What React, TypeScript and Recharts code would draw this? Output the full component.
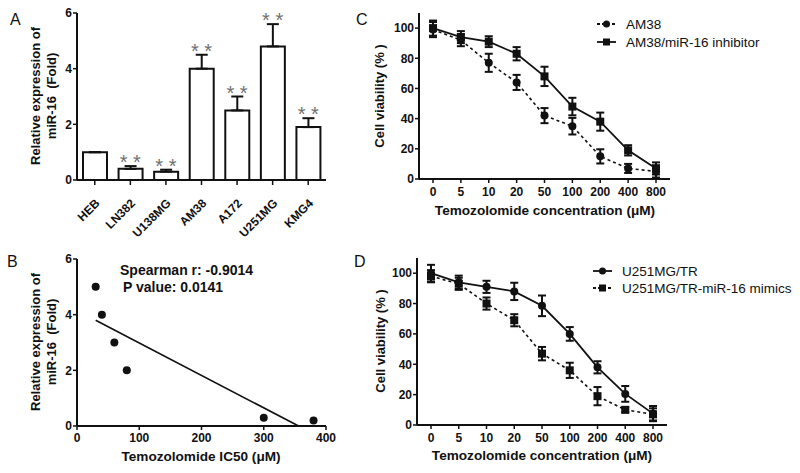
import {
  ComposedChart,
  LineChart,
  ScatterChart,
  Bar,
  Line,
  Scatter,
  ErrorBar,
  ReferenceLine,
  XAxis,
  YAxis,
} from 'recharts'

const FONT = '"Liberation Sans", Arial, Helvetica, sans-serif'
const INK = '#111'

// panel A - miR-16 expression per cell line
const cellLines = ['HEB', 'LN382', 'U138MG', 'AM38', 'A172', 'U251MG', 'KMG4']
const mirLevels = [1, 0.4, 0.3, 4.0, 2.5, 4.8, 1.9]
const mirErrors = [0, 0.1, 0.07, 0.5, 0.5, 0.8, 0.32]
const mirStars = ['', '* *', '* *', '* *', '* *', '* *', '* *']
const mirTicks = [0, 2, 4, 6]

// panel B - IC50 vs miR-16
const ic50Values = [30, 40, 60, 80, 300, 380]
const ic50MirLevels = [5, 4, 3, 2, 0.3, 0.2]
const fitStart = { x: 30, y: 3.8 }
const fitEnd = { x: 356, y: 0 }
const ic50Ticks = [0, 100, 200, 300, 400]
const spearmanText = 'Spearman r: -0.9014'
const pValueText = 'P value: 0.0141'

// panels C and D - viability curves
const concentrations = ['0', '5', '10', '20', '50', '100', '200', '400', '800']
const viabilityTicks = [0, 20, 40, 60, 80, 100]

const am38Viability = [99, 92, 77, 64, 42, 35, 15, 7, 5]
const am38Err = [5, 4, 6, 5, 5, 5.5, 4.7, 3, 4]
const am38InhViability = [100, 94, 91, 83, 68, 48, 38, 19, 7]
const am38InhErr = [5, 4, 3.6, 4.4, 6.4, 5.8, 6, 3.4, 4]

const u251Viability = [100, 94, 91, 88, 78.5, 60, 38, 20.5, 7.5]
const u251Err = [5.5, 4.4, 4, 5.7, 6.8, 4.5, 4, 5.2, 5]
const u251MimicViability = [98, 93, 80, 69, 47, 36, 19, 10, 7]
const u251MimicErr = [4, 4, 4, 4, 4.4, 5, 6, 1.6, 4]

const barData = cellLines.map((line, i) => ({
  line,
  level: mirLevels[i],
  range: [0, mirErrors[i]],
  top: mirLevels[i] + mirErrors[i],
  stars: mirStars[i],
}))

const scatterData = ic50Values.map((ic50, i) => ({ ic50, level: ic50MirLevels[i] }))

const cData = concentrations.map((conc, i) => ({
  conc,
  am38: am38Viability[i],
  am38Err: am38Err[i],
  inh: am38InhViability[i],
  inhErr: am38InhErr[i],
}))

const dData = concentrations.map((conc, i) => ({
  conc,
  tr: u251Viability[i],
  trErr: u251Err[i],
  mimic: u251MimicViability[i],
  mimicErr: u251MimicErr[i],
}))

const tickText = { fontSize: 12, fontWeight: 700, fill: INK, fontFamily: FONT }
const axisStroke = { stroke: INK, strokeWidth: 2 }
const tickStroke = { stroke: INK, strokeWidth: 1.5 }

function AngledTick({ x, y, payload }: any) {
  return (
    <g transform={`translate(${x},${y}) rotate(-45)`}>
      <text x={-8} y={16} textAnchor="end" fontSize={12} fontWeight={700} fill={INK} fontFamily={FONT}>
        {payload.value}
      </text>
    </g>
  )
}

function renderStars(props: any) {
  const { cx, cy, payload, index } = props
  if (!payload.stars) return <g key={`s-${index}`} />
  return (
    <text
      key={`s-${index}`}
      x={cx}
      y={cy + 3}
      textAnchor="middle"
      fontSize={20}
      fontFamily={FONT}
      fill="#707070"
    >
      {payload.stars}
    </text>
  )
}

function CircleDot(props: any) {
  const { cx, cy, index } = props
  return <circle key={`c-${index}`} cx={cx} cy={cy} r={4} fill={INK} />
}

function SquareDot(props: any) {
  const { cx, cy, index } = props
  return <rect key={`q-${index}`} x={cx - 4} y={cy - 4} width={8} height={8} fill={INK} />
}

function ScatterDot(props: any) {
  const { cx, cy } = props
  return <circle cx={cx} cy={cy} r={4} fill={INK} />
}

function ViabilityChart({ data, solidKey, solidErr, dashedKey, dashedErr, solidShape, dashedShape, margin, height }: any) {
  return (
    <LineChart width={440} height={height} data={data} margin={margin}>
      <XAxis
        dataKey="conc"
        interval={0}
        padding={{ left: 14, right: 14 }}
        height={40}
        tickSize={4}
        tickMargin={4}
        tick={tickText}
        axisLine={axisStroke}
        tickLine={tickStroke}
      />
      <YAxis
        width={40}
        domain={[0, 110]}
        ticks={viabilityTicks}
        tickSize={4}
        tickMargin={1}
        tick={tickText}
        axisLine={axisStroke}
        tickLine={tickStroke}
      />
      <Line
        dataKey={dashedKey}
        stroke={INK}
        strokeWidth={1.6}
        strokeDasharray="3 3"
        dot={dashedShape}
        activeDot={false}
        isAnimationActive={false}
      >
        <ErrorBar dataKey={dashedErr} width={4} stroke={INK} strokeWidth={2} direction="y" />
      </Line>
      <Line
        dataKey={solidKey}
        stroke={INK}
        strokeWidth={1.8}
        dot={solidShape}
        activeDot={false}
        isAnimationActive={false}
      >
        <ErrorBar dataKey={solidErr} width={4} stroke={INK} strokeWidth={2} direction="y" />
      </Line>
    </LineChart>
  )
}

function LegendRow({ x, y, dashed, square, label }: any) {
  return (
    <g>
      <line x1={x} x2={x + 19} y1={y} y2={y} stroke={INK} strokeWidth={1.8} strokeDasharray={dashed ? '3 2' : undefined} />
      {square ? (
        <rect x={x + 6} y={y - 3.5} width={7} height={7} fill={INK} />
      ) : (
        <circle cx={x + 9.5} cy={y} r={3.5} fill={INK} />
      )}
      <text x={x + 29} y={y + 5} fontSize={13.5} fontFamily={FONT} fill={INK}>
        {label}
      </text>
    </g>
  )
}

function YTitle({ x, y, lines }: any) {
  return (
    <text
      transform={`translate(${x},${y}) rotate(-90)`}
      textAnchor="middle"
      fontSize={13}
      fontWeight={700}
      fontFamily={FONT}
      fill={INK}
      style={{ whiteSpace: 'pre' }}
    >
      {lines.map((l: string, i: number) => (
        <tspan key={l} x={0} dy={i === 0 ? 0 : 16}>
          {l}
        </tspan>
      ))}
    </text>
  )
}

export default function App() {
  const panelLetter = { fontSize: 16, fontFamily: FONT, fill: INK }
  const xTitle = { fontSize: 13.6, fontWeight: 700, fontFamily: FONT, fill: INK, textAnchor: 'middle' as const }

  return (
    <div style={{ position: 'absolute', left: 0, top: 0, width: 800, height: 473, background: '#fff', fontFamily: FONT }}>
      <div style={{ position: 'absolute', left: 0, top: 0 }}>
        <ComposedChart width={340} height={240} data={barData} margin={{ top: 13, right: 14, bottom: 10, left: 37 }}>
          <XAxis
            dataKey="line"
            interval={0}
            height={50}
            tickSize={5}
            tickMargin={2}
            tick={<AngledTick />}
            axisLine={axisStroke}
            tickLine={tickStroke}
          />
          <YAxis
            width={40}
            domain={[0, 6]}
            ticks={mirTicks}
            tickSize={4}
            tickMargin={1}
            tick={tickText}
            axisLine={axisStroke}
            tickLine={tickStroke}
          />
          <Bar dataKey="level" barSize={24} fill="#fff" stroke={INK} strokeWidth={2} isAnimationActive={false}>
            <ErrorBar dataKey="range" width={6} stroke={INK} strokeWidth={2} direction="y" />
          </Bar>
          <Line dataKey="top" stroke="none" dot={renderStars} activeDot={false} isAnimationActive={false} />
        </ComposedChart>
      </div>

      <div style={{ position: 'absolute', left: 0, top: 240 }}>
        <ScatterChart width={360} height={233} margin={{ top: 19, right: 34, bottom: 7, left: 37 }}>
          <XAxis
            type="number"
            dataKey="ic50"
            domain={[0, 400]}
            ticks={ic50Ticks}
            height={40}
            tickSize={4}
            tickMargin={3}
            tick={tickText}
            axisLine={axisStroke}
            tickLine={tickStroke}
          />
          <YAxis
            type="number"
            dataKey="level"
            width={40}
            domain={[0, 6]}
            ticks={mirTicks}
            tickSize={4}
            tickMargin={1}
            tick={tickText}
            axisLine={axisStroke}
            tickLine={tickStroke}
          />
          <ReferenceLine segment={[fitStart, fitEnd]} stroke={INK} strokeWidth={1.6} ifOverflow="visible" />
          <Scatter data={scatterData} shape={<ScatterDot />} isAnimationActive={false} />
        </ScatterChart>
      </div>

      <div style={{ position: 'absolute', left: 360, top: 0 }}>
        <ViabilityChart
          data={cData}
          height={240}
          margin={{ top: 13, right: 130, bottom: 21, left: 19 }}
          dashedKey="am38"
          dashedErr="am38Err"
          dashedShape={<CircleDot />}
          solidKey="inh"
          solidErr="inhErr"
          solidShape={<SquareDot />}
        />
      </div>

      <div style={{ position: 'absolute', left: 360, top: 240 }}>
        <ViabilityChart
          data={dData}
          height={233}
          margin={{ top: 18, right: 133, bottom: 8, left: 17 }}
          dashedKey="mimic"
          dashedErr="mimicErr"
          dashedShape={<SquareDot />}
          solidKey="tr"
          solidErr="trErr"
          solidShape={<CircleDot />}
        />
      </div>

      <svg width={800} height={473} style={{ position: 'absolute', left: 0, top: 0, pointerEvents: 'none' }}>
        <text x={10} y={25} {...panelLetter}>A</text>
        <text x={7} y={267} {...panelLetter}>B</text>
        <text x={356} y={25} {...panelLetter}>C</text>
        <text x={354} y={267} {...panelLetter}>D</text>

        <YTitle x={40} y={96} lines={['Relative expression of', 'miR-16  (Fold)']} />
        <YTitle x={40} y={342} lines={['Relative expression of', 'miR-16  (Fold)']} />
        <YTitle x={384} y={96} lines={['Cell viability (% )']} />
        <YTitle x={385} y={341} lines={['Cell viability (% )']} />

        <text x={201} y={461} {...xTitle}>Temozolomide IC50 (μM)</text>
        <text x={545} y={215} {...xTitle}>Temozolomide concentration (μM)</text>
        <text x={542} y={460} {...xTitle}>Temozolomide concentration (μM)</text>

        <text x={120} y={275} fontSize={14} fontWeight={700} fontFamily={FONT} fill={INK}>{spearmanText}</text>
        <text x={123} y={292} fontSize={14} fontWeight={700} fontFamily={FONT} fill={INK}>{pValueText}</text>

        <LegendRow x={597} y={24} dashed label="AM38" />
        <LegendRow x={597} y={42} square label="AM38/miR-16 inhibitor" />
        <LegendRow x={593} y={271} label="U251MG/TR" />
        <LegendRow x={593} y={288} dashed square label="U251MG/TR-miR-16 mimics" />
      </svg>
    </div>
  )
}
